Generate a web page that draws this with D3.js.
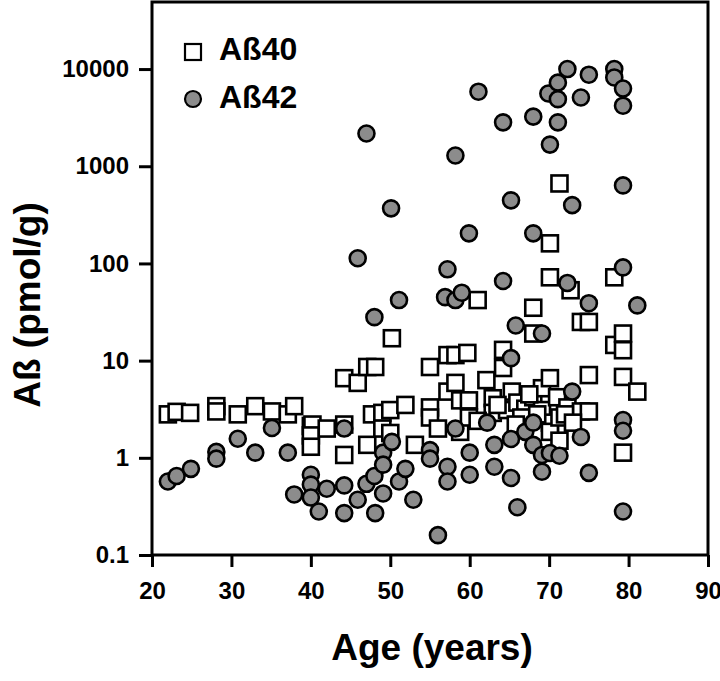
<!DOCTYPE html>
<html>
<head>
<meta charset="utf-8">
<script src="https://cdn.jsdelivr.net/npm/d3@7"></script>
<style>
  html, body { margin: 0; padding: 0; background: #fff; }
  text { font-family: "Liberation Sans", Arial, Helvetica, sans-serif; font-weight: bold; }
</style>
</head>
<body>
<svg id="chart" width="720" height="681"></svg>
<script>
// ---- Data (age in years, Aβ in pmol/g) ----
const seriesNames = ["Aß40", "Aß42"];

const ab40Age = [22.0,23.1,24.8,28.1,28.1,30.8,33.0,35.1,37.1,37.9,40.0,40.2,40.0,40.0,42.0,44.2,44.2,44.2,45.9,47.1,48.1,47.1,47.7,49.0,49.0,50.0,50.0,50.2,51.9,53.1,55.0,55.0,55.0,56.0,57.2,57.2,58.2,58.2,58.8,58.8,59.7,59.9,59.9,61.0,62.1,62.9,62.9,64.2,64.2,64.7,65.3,66.0,67.0,68.0,68.0,68.0,69.1,69.1,70.1,70.1,70.1,70.1,70.1,71.0,71.3,71.3,71.3,72.3,72.7,74.0,74.0,75.0,75.0,75.0,78.2,78.2,79.3,79.3,79.3,79.3,81.1,61.0,63.5,66.5,67.5,68.5,65.8,72.0,73.0];
const ab40Val = [2.8,2.97,2.9,3.4,3.0,2.8,3.4,3.0,2.8,3.4,2.13,2.2,1.7,1.3,2.0,6.6,2.2,1.07,5.9,8.6,8.6,1.36,2.8,2.9,2.0,3.1,1.8,17,3.5,1.36,8.6,3.3,2.6,2.0,11.4,4.8,11.4,5.9,3.9,1.85,12,3.9,2.6,42,6.3,4.1,2.9,12.9,8.4,3.1,4.8,3.7,3.2,35,19,4.2,5.2,3.1,161,72,6.6,2.3,1.85,4.2,665,2.6,1.5,3.3,53,25,3.0,25,7.1,3.0,72,14.5,19,12.8,6.8,1.13,4.8,2.4,3.5,2.6,4.5,2.8,2.2,2.8,2.3];

const ab42Age = [22.0,23.1,24.9,28.1,28.1,30.8,33.0,35.1,37.1,37.9,40.0,40.0,40.0,41.0,42.0,44.2,44.2,44.2,45.9,45.9,47.0,47.0,48.0,48.0,48.1,49.1,49.1,49.1,50.1,50.2,51.1,51.1,51.9,52.9,55.0,55.0,56.0,56.9,57.2,57.2,57.2,58.2,58.2,58.2,59.0,59.9,60.0,60.0,61.1,62.2,63.1,63.1,64.2,64.2,65.2,65.2,65.2,65.2,65.8,66.0,67.0,68.0,68.0,68.0,68.0,69.1,69.1,69.1,69.9,70.1,70.1,71.1,71.1,71.1,71.3,72.3,72.3,72.9,72.9,74.0,74.0,75.0,75.0,75.0,78.2,78.2,79.3,79.3,79.3,79.3,79.3,79.3,79.3,81.1];
const ab42Val = [0.57,0.65,0.77,1.15,0.98,1.57,1.13,2.03,1.13,0.42,0.67,0.53,0.39,0.28,0.48,2.0,0.52,0.27,0.37,113,2170,0.54,0.65,28,0.27,1.13,0.85,0.43,369,1.46,42,0.57,0.77,0.37,1.2,0.98,0.16,45,87,0.81,0.57,1290,42,2.0,50,204,1.13,0.67,5850,2.3,1.36,0.81,2830,66,446,10.6,1.56,0.62,23,0.31,1.85,3240,204,2.3,1.36,19,1.07,0.72,5600,1670,1.12,7250,4900,2830,1.05,10000,63,398,4.8,5100,1.64,8750,39,0.70,10000,8200,6300,4200,635,91,2.45,1.9,0.28,37];

const xTicks = [20, 30, 40, 50, 60, 70, 80, 90];
const yTicks = [0.1, 1, 10, 100, 1000, 10000];
const yTickLabels = ["0.1", "1", "10", "100", "1000", "10000"];

// ---- Layout ----
const svg = d3.select("#chart");
const mLeft = 152, mRight = 708, mTop = 2, mBottom = 555;

const x = d3.scaleLinear().domain([20, 90]).range([mLeft, mRight]);
const y = d3.scaleLog().domain([0.1, Math.pow(10, 4.69)]).range([mBottom, mTop]);

// Axes
const xAxis = d3.axisBottom(x).tickValues(xTicks).tickSize(12).tickPadding(15).tickFormat(d3.format("d"));
const yAxis = d3.axisLeft(y).tickValues(yTicks).tickSize(13).tickPadding(10)
  .tickFormat((d, i) => yTickLabels[i]);

const gx = svg.append("g").attr("transform", `translate(0,${mBottom})`).call(xAxis);
const gy = svg.append("g").attr("transform", `translate(${mLeft},0)`).call(yAxis);
[gx, gy].forEach(g => {
  g.select(".domain").remove();
  g.selectAll(".tick line").attr("stroke", "#000").attr("stroke-width", 3);
  g.selectAll(".tick text").attr("fill", "#000").style("font-size", "24px")
    .style("font-family", '"Liberation Sans", Arial, sans-serif').style("font-weight", "bold");
});

// Frame
svg.append("rect").attr("x", mLeft).attr("y", mTop).attr("width", mRight - mLeft).attr("height", mBottom - mTop)
  .attr("fill", "none").attr("stroke", "#000").attr("stroke-width", 3);

// Axis titles
svg.append("text").attr("x", 432).attr("y", 660).attr("text-anchor", "middle")
  .style("font-size", "37px").text("Age (years)");
svg.append("text").attr("transform", "translate(40,305) rotate(-90)").attr("text-anchor", "middle")
  .style("font-size", "37px").text("Aß (pmol/g)");

// Points
const sq = 16;
const ab40 = ab40Age.map((a, i) => ({ age: a, v: ab40Val[i] }));
const ab42 = ab42Age.map((a, i) => ({ age: a, v: ab42Val[i] }));

svg.append("g").selectAll("rect").data(ab40).join("rect")
  .attr("x", d => x(d.age) - sq / 2).attr("y", d => y(d.v) - sq / 2)
  .attr("width", sq).attr("height", sq)
  .attr("fill", "#fff").attr("stroke", "#000").attr("stroke-width", 2.6);

svg.append("g").selectAll("circle").data(ab42).join("circle")
  .attr("cx", d => x(d.age)).attr("cy", d => y(d.v)).attr("r", 8)
  .attr("fill", "#8c8c8c").attr("stroke", "#000").attr("stroke-width", 2.6);

// Legend
const lg = svg.append("g");
lg.append("rect").attr("x", 193 - 8).attr("y", 52 - 8).attr("width", 16).attr("height", 16)
  .attr("fill", "#fff").attr("stroke", "#000").attr("stroke-width", 2.2);
lg.append("text").attr("x", 219).attr("y", 60).style("font-size", "32px").text(seriesNames[0]);
lg.append("circle").attr("cx", 193).attr("cy", 99).attr("r", 8)
  .attr("fill", "#8c8c8c").attr("stroke", "#000").attr("stroke-width", 2.2);
lg.append("text").attr("x", 219).attr("y", 108).style("font-size", "32px").text(seriesNames[1]);
</script>
</body>
</html>
